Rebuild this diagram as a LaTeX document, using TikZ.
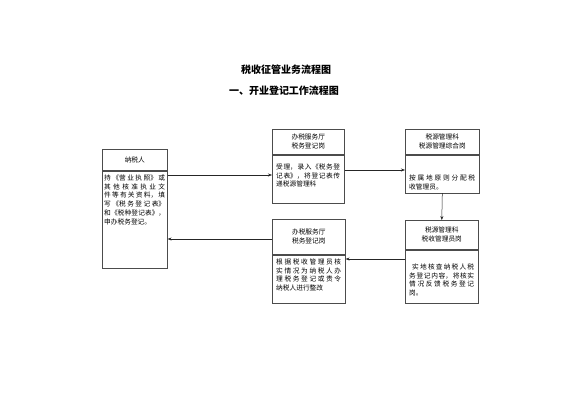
\documentclass[tikz,border=0pt]{standalone}
\usepackage{fontspec}
\newfontfamily\cjk{Noto Sans CJK SC}
\usetikzlibrary{arrows.meta}
\XeTeXlinebreaklocale "zh"
\XeTeXlinebreakskip=0pt plus 3pt
\begin{document}
\begin{tikzpicture}[x=1pt,y=1pt,
  box/.style={draw=black!70, line width=0.6pt, inner sep=0pt, rectangle},
  hd/.style={box, font=\cjk\fontsize{6.7}{9}\selectfont, align=center},
  txt/.style={inner sep=0pt, anchor=base west, font=\cjk\fontsize{6.7}{8.7}\selectfont},
  ttl/.style={inner sep=0pt, font=\cjk\bfseries\fontsize{10}{12}\selectfont},
  arr/.style={-{Stealth[length=4pt,width=3pt]}, line width=0.5pt, black!85}]
\useasboundingbox (0,0) rectangle (566,-400);
% titles
\node[ttl] (t1) at (286,-70) {税收征管业务流程图};
\node[ttl] (t2) at (284,-91) {一、开业登记工作流程图};
% box 1
\node[hd, minimum width=65pt, minimum height=21pt, anchor=north west] (h1) at (102,-149) {纳税人};
\node[box, minimum width=65pt, minimum height=97pt, anchor=north west] (b1) at (h1.south west) {};
\node[txt] (x1) at (104,-180.5) {\parbox[t]{61pt}{持《营业执照》或\linebreak 其他核准执业文\linebreak 件等有关资料，填\linebreak 写《税务登记表》\linebreak 和《税种登记表》，\linebreak 申办税务登记。}};
% box 3
\node[hd, minimum width=72pt, minimum height=25pt, anchor=north west] (h3) at (272,-129) {办税服务厅\\税务登记岗};
\node[box, minimum width=72pt, minimum height=48pt, anchor=north west] (b3) at (h3.south west) {};
\node[txt] (x3) at (276,-169.5) {\parbox[t]{64pt}{受理，录入《税务登\linebreak 记表》，将登记表传\linebreak 递税源管理科}};
% box 4
\node[hd, minimum width=74pt, minimum height=25pt, anchor=north west] (h4) at (405,-129) {税源管理科\\税源管理综合岗};
\node[box, minimum width=74pt, minimum height=38pt, anchor=north west] (b4) at (h4.south west) {};
\node[txt] (x4) at (409,-180.5) {\parbox[t]{66pt}{按属地原则分配税\linebreak 收管理员。}};
% box 5
\node[hd, minimum width=73pt, minimum height=35pt, anchor=north west] (h5) at (272,-219) {办税服务厅\\税务登记岗};
\node[box, minimum width=73pt, minimum height=48pt, anchor=north west] (b5) at (h5.south west) {};
\node[txt] (x5) at (276,-264.5) {\parbox[t]{65pt}{根据税收管理员核\linebreak 实情况为纳税人办\linebreak 理税务登记或责令\linebreak 纳税人进行整改}};
% box 6
\node[hd, minimum width=73pt, minimum height=29pt, anchor=north west] (h6) at (405,-220) {税源管理科\\税收管理员岗};
\node[box, minimum width=73pt, minimum height=53pt, anchor=north west] (b6) at (h6.south west) {};
\node[txt] (x6) at (409,-269.5) {\parbox[t]{65pt}{\hspace*{3pt}实地核查纳税人税\linebreak 务登记内容，将核实\linebreak 情况反馈税务登记\linebreak 岗。}};
% arrows
\draw[arr] (b1.east |- 0,-175) -- (b3.west |- 0,-175);
\draw[arr] (b3.east |- 0,-170) -- (b4.west |- 0,-170);
\draw[arr] (b4.south) -- (h6.north);
\draw[arr] (b6.west |- 0,-259) -- (b5.east |- 0,-259);
\draw[arr] (h5.west |- 0,-239) -- (b1.east |- 0,-239);
\end{tikzpicture}
\end{document}
